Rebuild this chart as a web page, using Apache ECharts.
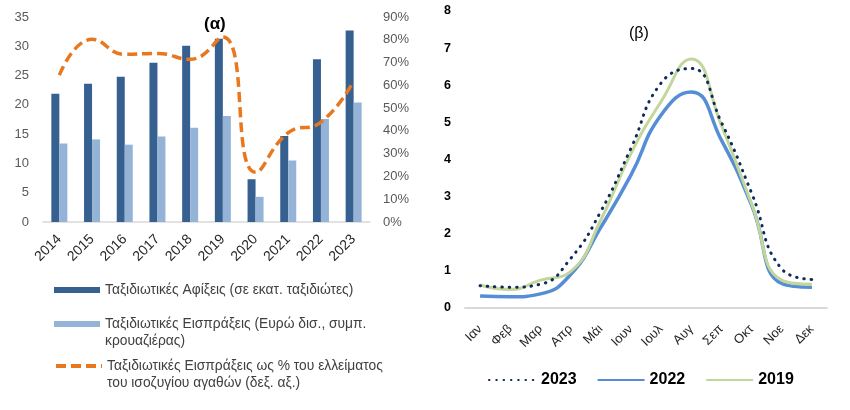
<!DOCTYPE html>
<html>
<head>
<meta charset="utf-8">
<script src="https://cdn.jsdelivr.net/npm/echarts@6/dist/echarts.min.js"></script>
<style>
html,body{margin:0;padding:0;background:#fff;}
#chart{width:850px;height:410px;}
</style>
</head>
<body>
<div id="chart"></div>
<script>
// ---- Panel (α) data ----
var years = ['2014','2015','2016','2017','2018','2019','2020','2021','2022','2023'];
var arrivals = [21.9, 23.6, 24.8, 27.2, 30.1, 31.3, 7.3, 14.7, 27.8, 32.7];
var receipts = [13.4, 14.1, 13.2, 14.6, 16.1, 18.1, 4.3, 10.5, 17.6, 20.4];
var receiptsPct = [64.5, 80.2, 73.6, 74.0, 71.4, 81.2, 21.8, 39.2, 43.8, 61.9];
var leftTicksMax = 35, leftTicksStep = 5, rightTicksMax = 90, rightTicksStep = 10;

// ---- Panel (β) data ----
var months = ['Ιαν','Φεβ','Μαρ','Απρ','Μάι','Ιουν','Ιουλ','Αυγ','Σεπ','Οκτ','Νοε','Δεκ'];
var y2023 = [0.60, 0.56, 0.64, 1.33, 2.60, 4.30, 6.06, 6.45, 5.00, 3.10, 1.05, 0.77];
var y2022 = [0.32, 0.30, 0.38, 0.90, 2.17, 3.58, 5.20, 5.82, 4.52, 2.77, 0.66, 0.56];
var y2019 = [0.62, 0.50, 0.75, 0.98, 2.37, 4.16, 5.56, 6.71, 4.92, 2.81, 0.75, 0.64];
var betaTicksMax = 8, betaTicksStep = 1;

var nameArr = 'Ταξιδιωτικές Αφίξεις (σε εκατ. ταξιδιώτες)';
var nameRec = 'Ταξιδιωτικές Εισπράξεις (Ευρώ δισ., συμπ. κρουαζιέρας)';
var namePct = 'Ταξιδιωτικές Εισπράξεις ως % του ελλείματος του ισοζυγίου αγαθών (δεξ. αξ.)';

var FONT = '"Liberation Sans", Arial, sans-serif';
var legendText = {fontFamily: FONT, fontSize: 13.8, color: '#404040', lineHeight: 17};

var chart = echarts.init(document.getElementById('chart'), null, {renderer: 'canvas'});
var option = {
  animation: false,
  textStyle: {fontFamily: FONT},
  title: [
    {text: '(α)', left: 199, top: 11, textStyle: {fontFamily: FONT, fontSize: 17, fontWeight: 'bold', color: '#000'}},
    {text: '(β)', left: 624, top: 21, textStyle: {fontFamily: FONT, fontSize: 16, fontWeight: 'normal', color: '#000'}}
  ],
  legend: [
    {left: 54, top: 281.5, padding: 0, selectedMode: false, data: [nameArr], icon: 'rect', itemWidth: 46, itemHeight: 6, textStyle: legendText},
    {left: 54, top: 298.5, padding: 0, selectedMode: false, data: [nameRec], icon: 'rect', itemWidth: 46, itemHeight: 6, textStyle: legendText,
      formatter: function () { return '\nΤαξιδιωτικές Εισπράξεις (Ευρώ δισ., συμπ.\nκρουαζιέρας)'; }},
    {left: 54, top: 340.5, padding: 0, selectedMode: false, data: [namePct], itemWidth: 46, itemHeight: 6, textStyle: legendText,
      itemStyle: {opacity: 0}, lineStyle: {width: 4},
      formatter: function () { return '\nΤαξιδιωτικές Εισπράξεις ως % του ελλείματος\nτου ισοζυγίου αγαθών (δεξ. αξ.)'; }},
    {left: 488, top: 372, padding: 0, selectedMode: false, data: ['2023','2022','2019'], itemWidth: 47, itemHeight: 18, itemGap: 20,
      itemStyle: {opacity: 0},
      textStyle: {fontFamily: FONT, fontSize: 16, fontWeight: 'bold', color: '#000'}}
  ],
  grid: [
    {left: 43, right: 480, top: 17, bottom: 188, containLabel: false},
    {left: 465, right: 23, top: 11, bottom: 102, containLabel: false}
  ],
  xAxis: [
    {type: 'category', gridIndex: 0, data: years,
      axisLine: {lineStyle: {color: '#d9d9d9', width: 1.5}}, axisTick: {show: false},
      axisLabel: {rotate: 45, margin: 15, fontSize: 14, color: '#262626', fontFamily: FONT, interval: 0}},
    {type: 'category', gridIndex: 1, data: months,
      axisLine: {lineStyle: {color: '#d9d9d9', width: 2}}, axisTick: {show: false},
      axisLabel: {rotate: 45, margin: 19, fontSize: 13, color: '#262626', fontFamily: FONT, interval: 0}}
  ],
  yAxis: [
    {type: 'value', gridIndex: 0, min: 0, max: leftTicksMax, interval: leftTicksStep,
      axisLine: {show: false}, axisTick: {show: false}, splitLine: {show: false},
      axisLabel: {margin: 14, fontSize: 13, color: '#595959', fontFamily: FONT}},
    {type: 'value', gridIndex: 0, position: 'right', min: 0, max: rightTicksMax, interval: rightTicksStep,
      axisLine: {show: false}, axisTick: {show: false}, splitLine: {show: false},
      axisLabel: {margin: 13, fontSize: 13, color: '#595959', fontFamily: FONT, formatter: '{value}%'}},
    {type: 'value', gridIndex: 1, min: 0, max: betaTicksMax, interval: betaTicksStep,
      axisLine: {show: false}, axisTick: {show: false}, splitLine: {show: false},
      axisLabel: {margin: 14, fontSize: 12.5, fontWeight: 'bold', color: '#000', fontFamily: FONT}}
  ],
  series: [
    {name: nameArr, type: 'bar', xAxisIndex: 0, yAxisIndex: 0, data: arrivals, barWidth: 8, barGap: '0%',
      itemStyle: {color: '#36608F'}},
    {name: nameRec, type: 'bar', xAxisIndex: 0, yAxisIndex: 0, data: receipts, barWidth: 8, barGap: '0%',
      itemStyle: {color: '#95B3D7'}},
    {name: namePct, type: 'line', xAxisIndex: 0, yAxisIndex: 1, data: receiptsPct, smooth: 0.5, symbol: 'none',
      itemStyle: {color: '#E8771E'},
      lineStyle: {color: '#E8771E', width: 3.5, type: [10, 5]}},
    {name: '2023', type: 'line', xAxisIndex: 1, yAxisIndex: 2, data: y2023, smooth: 0.5, symbol: 'none', z: 4,
      itemStyle: {color: '#0E2A5E'},
      lineStyle: {color: '#0E2A5E', width: 3, type: [0.5, 6.8], cap: 'round'}},
    {name: '2022', type: 'line', xAxisIndex: 1, yAxisIndex: 2, data: y2022, smooth: 0.5, symbol: 'none', z: 3,
      itemStyle: {color: '#558ED5'},
      lineStyle: {color: '#558ED5', width: 3.5}},
    {name: '2019', type: 'line', xAxisIndex: 1, yAxisIndex: 2, data: y2019, smooth: 0.5, symbol: 'none', z: 3,
      itemStyle: {color: '#C3D69B'},
      lineStyle: {color: '#C3D69B', width: 3}}
  ]
};
chart.setOption(option);
</script>
</body>
</html>
